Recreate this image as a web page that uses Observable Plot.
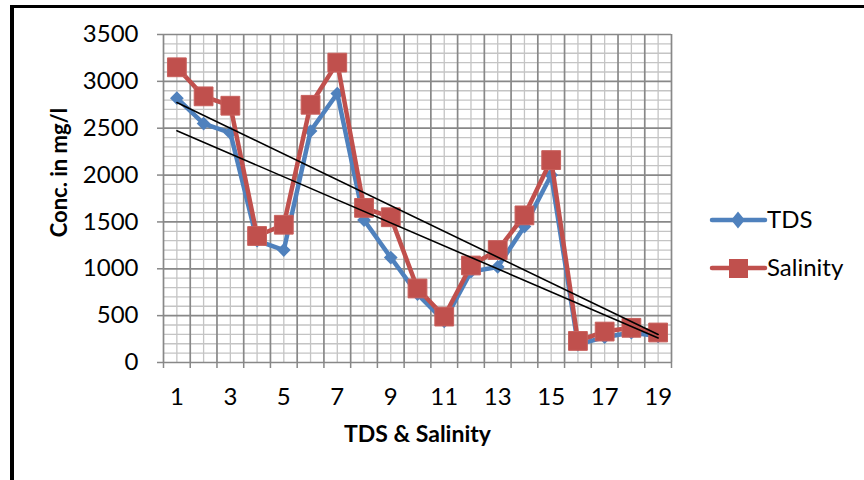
<!DOCTYPE html>
<html>
<head>
<meta charset="utf-8">
<script src="https://cdn.jsdelivr.net/npm/d3@7"></script>
<script src="https://cdn.jsdelivr.net/npm/@observablehq/plot@0.6"></script>
<style>
  html, body { margin: 0; padding: 0; background: #fff; }
  #wrap { position: relative; width: 864px; height: 480px; overflow: hidden; font-family: Lato, "Open Sans", sans-serif; }
  #border { position: absolute; left: 10px; top: 5px; width: 870px; height: 490px; border-left: 4px solid #000; border-top: 3px solid #000; pointer-events: none; }
  #legend { position: absolute; left: 700px; top: 195px; }
</style>
</head>
<body>
<div id="wrap">
  <div id="chart"></div>
  <div id="border"></div>
  <div id="legend"></div>
</div>
<script>
// Sample numbers along the x axis
const samples = [1, 2, 3, 4, 5, 6, 7, 8, 9, 10, 11, 12, 13, 14, 15, 16, 17, 18, 19];
// Total dissolved solids, mg/l
const tds = [2820, 2550, 2450, 1300, 1200, 2470, 2870, 1520, 1120, 730, 440, 970, 1020, 1450, 2000, 190, 270, 320, 280];
// Salinity, mg/l
const salinity = [3150, 2840, 2740, 1350, 1470, 2750, 3200, 1650, 1550, 790, 490, 1035, 1200, 1570, 2160, 230, 330, 370, 320];
// Tick labels
const xTickLabels = [1, 3, 5, 7, 9, 11, 13, 15, 17, 19];
const yTicks = [0, 500, 1000, 1500, 2000, 2500, 3000, 3500];

const seriesNames = ["TDS", "Salinity"];
const seriesColors = ["#4F81BD", "#C0504D"];

const rows = samples.map((s, i) => ({sample: s, TDS: tds[i], Salinity: salinity[i]}));

// Grid: major lines on category boundaries / every 500, minor in between
const majorX = d3.range(0.5, samples.length + 1, 1);
const minorX = samples;
const majorY = yTicks;
const minorY = d3.range(0, 3501, 100).filter(v => v % 500 !== 0);

const majorColor = "#888888";
const minorColor = "#c4c4c4";
const tickFont = 24;
const titleFont = 23;

const chart = Plot.plot({
  width: 864,
  height: 480,
  marginLeft: 163,
  marginRight: 193,
  marginTop: 34,
  marginBottom: 118,
  x: {type: "linear", domain: [0.5, samples.length + 0.5]},
  y: {domain: [0, 3500]},
  style: {fontFamily: "Lato, 'Open Sans', sans-serif", fontSize: tickFont + "px", color: "#000", background: "transparent"},
  marks: [
    Plot.ruleX(minorX, {stroke: minorColor, strokeWidth: 1.3}),
    Plot.ruleY(minorY, {stroke: minorColor, strokeWidth: 1.3}),
    Plot.ruleX(majorX, {stroke: majorColor, strokeWidth: 1.7}),
    Plot.ruleY(majorY, {stroke: majorColor, strokeWidth: 1.7}),
    Plot.axisY({ticks: yTicks, tickSize: 6, tickPadding: 19, tickFormat: d => String(d), stroke: majorColor, strokeWidth: 1.5, label: null, fontSize: tickFont}),
    Plot.axisX({ticks: majorX, tickSize: 6, tickFormat: () => "", stroke: majorColor, strokeWidth: 1.5, label: null}),
    Plot.axisX({ticks: xTickLabels, tickSize: 0, tickPadding: 25, tickFormat: d => String(d), label: null, fontSize: tickFont}),
    Plot.line(rows, {x: "sample", y: "TDS", stroke: seriesColors[0], strokeWidth: 4.5}),
    Plot.dot(rows, {x: "sample", y: "TDS", symbol: "diamond2", r: 6.2, fill: seriesColors[0], stroke: "none"}),
    Plot.line(rows, {x: "sample", y: "Salinity", stroke: seriesColors[1], strokeWidth: 4.5}),
    Plot.dot(rows, {x: "sample", y: "Salinity", symbol: "square", r: 10.6, fill: seriesColors[1], stroke: "#c8605c", strokeWidth: 1}),
    // Linear trend lines for each series
    Plot.linearRegressionY(rows, {x: "sample", y: "TDS", stroke: "#000", strokeWidth: 1.6, ci: 0}),
    Plot.linearRegressionY(rows, {x: "sample", y: "Salinity", stroke: "#000", strokeWidth: 1.6, ci: 0}),
    // Axis titles
    Plot.text(["Conc. in mg/l"], {text: d => d, frameAnchor: "left", textAnchor: "middle", dx: -104, dy: -26, rotate: -90, fontWeight: "bold", fontSize: 22}),
    Plot.text(["TDS & Salinity"], {text: d => d, frameAnchor: "bottom", dy: 79, fontWeight: "bold", fontSize: titleFont})
  ]
});
document.getElementById("chart").appendChild(chart);

// Legend
const lg = d3.select("#legend").append("svg").attr("width", 164).attr("height", 100)
  .style("font-family", "Lato, 'Open Sans', sans-serif").style("font-size", tickFont + "px");
seriesNames.forEach((name, i) => {
  const y = 25 + i * 48;
  const g = lg.append("g").attr("transform", `translate(0,${y})`);
  g.append("line").attr("x1", 12).attr("x2", 65).attr("y1", 0).attr("y2", 0)
    .attr("stroke", seriesColors[i]).attr("stroke-width", 4.5).attr("stroke-linecap", "round");
  if (i === 0) {
    g.append("path").attr("d", d3.symbol(d3.symbolDiamond2, 120)()).attr("transform", "translate(38,0) scale(1,1.25)").attr("fill", seriesColors[i]);
  } else {
    g.append("rect").attr("x", 29).attr("y", -9).attr("width", 19).attr("height", 19).attr("fill", seriesColors[i]);
  }
  g.append("text").attr("x", 67).attr("y", 0).attr("dy", "0.35em").text(name);
});
</script>
</body>
</html>
